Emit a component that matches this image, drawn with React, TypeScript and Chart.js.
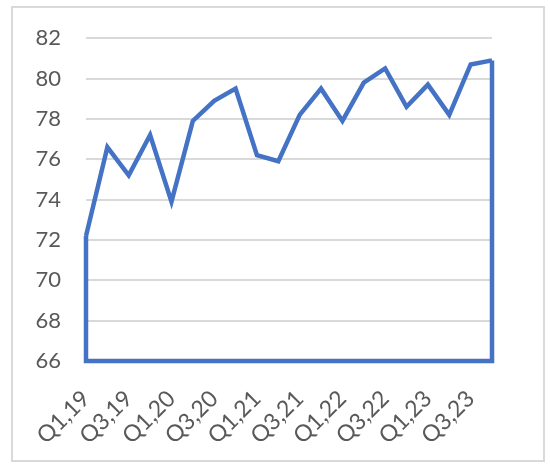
import React, { useEffect, useRef } from "react";
import { Chart, registerables } from "chart.js";

Chart.register(...registerables);

const categories = [
  "Q1,19", "Q2,19", "Q3,19", "Q4,19",
  "Q1,20", "Q2,20", "Q3,20", "Q4,20",
  "Q1,21", "Q2,21", "Q3,21", "Q4,21",
  "Q1,22", "Q2,22", "Q3,22", "Q4,22",
  "Q1,23", "Q2,23", "Q3,23", "Q4,23",
];
const values = [
  72.2, 76.6, 75.2, 77.2,
  73.9, 77.9, 78.9, 79.5,
  76.2, 75.9, 78.2, 79.5,
  77.9, 79.8, 80.5, 78.6,
  79.7, 78.2, 80.7, 80.9,
];
const yMin = 66;
const yMax = 82;
const yStep = 2;

const LINE_COLOR = "#4472C4";
const TEXT_COLOR = "#595959";
const GRID_COLOR = "#D9D9D9";
const FONT = "Lato, 'Open Sans', sans-serif";

const edgePlugin = {
  id: "areaEdges",
  afterDatasetsDraw(chart: any) {
    const meta = chart.getDatasetMeta(0);
    const pts = meta.data;
    if (!pts || !pts.length) return;
    const yScale = chart.scales.y;
    const bottom = yScale.getPixelForValue(yMin);
    const first = pts[0];
    const last = pts[pts.length - 1];
    const ctx = chart.ctx;
    ctx.save();
    ctx.strokeStyle = LINE_COLOR;
    ctx.lineWidth = 4.5;
    ctx.lineJoin = "miter";
    ctx.lineCap = "butt";
    ctx.beginPath();
    ctx.moveTo(first.x, first.y);
    ctx.lineTo(first.x, bottom);
    ctx.lineTo(last.x, bottom);
    ctx.lineTo(last.x, last.y);
    ctx.stroke();
    ctx.restore();
  },
};

export default function App() {
  const canvasRef = useRef<HTMLCanvasElement | null>(null);

  useEffect(() => {
    if (!canvasRef.current) return;
    const chart = new Chart(canvasRef.current, {
      type: "line",
      data: {
        labels: categories,
        datasets: [
          {
            data: values,
            borderColor: LINE_COLOR,
            borderWidth: 4.5,
            borderJoinStyle: "miter",
            pointRadius: 0,
            tension: 0,
            fill: false,
          },
        ],
      },
      plugins: [edgePlugin],
      options: {
        animation: false,
        responsive: true,
        maintainAspectRatio: false,
        layout: { padding: { left: 0, right: 58, top: 36, bottom: 0 } },
        plugins: { legend: { display: false }, tooltip: { enabled: false } },
        scales: {
          x: {
            offset: false,
            grid: { display: false, drawTicks: false },
            border: { display: false },
            afterFit: (axis: any) => {
              axis.height = 107;
            },
            ticks: {
              autoSkip: false,
              minRotation: 45,
              maxRotation: 45,
              padding: 24,
              color: TEXT_COLOR,
              font: { family: FONT, size: 23 },
              callback: function (_v: any, i: number) {
                return i % 2 === 0 ? categories[i] : "";
              },
            },
          },
          y: {
            min: yMin,
            max: yMax,
            grid: { color: GRID_COLOR, lineWidth: 2, drawTicks: false },
            border: { display: false },
            afterFit: (axis: any) => {
              axis.width = 86;
            },
            ticks: {
              stepSize: yStep,
              padding: 25,
              color: TEXT_COLOR,
              font: { family: FONT, size: 22 },
            },
          },
        },
      },
    });
    return () => chart.destroy();
  }, []);

  return (
    <div style={{ position: "fixed", left: 0, top: 0, width: 550, height: 468, background: "#fff" }}>
      <div
        style={{
          position: "absolute",
          left: 11,
          top: 6,
          width: 530,
          height: 452,
          border: "2px solid #D9D9D9",
        }}
      />
      <canvas ref={canvasRef} />
    </div>
  );
}
